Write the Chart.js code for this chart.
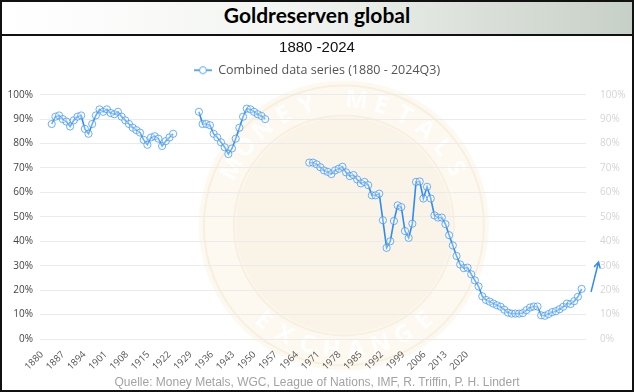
<!DOCTYPE html>
<html>
<head>
<meta charset="utf-8">
<title>Goldreserven global</title>
<script src="https://cdn.jsdelivr.net/npm/chart.js@4.4.1/dist/chart.umd.min.js"></script>
<style>
  html, body { margin: 0; padding: 0; background: #fff; }
  #frame {
    position: relative; width: 634px; height: 392px;
    box-sizing: border-box; border: 2px solid #111; overflow: hidden;
  }
  #header {
    height: 32px; border-bottom: 2px solid #111;
    background: linear-gradient(90deg, #ffffff 0%, #f3f5f2 45%, #c7d0c6 100%);
    text-align: center; line-height: 32px;
    font: bold 21px Lato, "Open Sans", sans-serif; color: #000;
  }
  #plot { position: relative; width: 630px; height: 354px; }
  #plot canvas { display: block; }
  #source {
    position: absolute; left: 0; right: 0; bottom: 1px; text-align: center;
    font: 12px "Liberation Sans", Arial, sans-serif; color: #a3a3a3;
  }
</style>
</head>
<body>
<div id="frame">
  <div id="header">Goldreserven global</div>
  <div id="plot"><canvas id="chart" width="630" height="354"></canvas></div>
  <div id="source">Quelle: Money Metals, WGC, League of Nations, IMF, R. Triffin, P. H. Lindert</div>
</div>

<script>
'use strict';

// ─── Daten ───────────────────────────────────────────────────────────────────
const seriesLabel = 'Combined data series (1880 - 2024Q3)';

// Goldanteil an den Währungsreserven (%), ein Wert pro Jahr
const start1 = 1880; // 1880–1913
const share1 = [88, 91, 91.5, 90, 89, 87, 89.5, 91, 91.5, 86, 84, 88, 91.5, 94, 93, 94, 92.5,
  92, 93, 91, 89.5, 88, 86.5, 85.5, 84.5, 81.5, 79.5, 82.5, 83, 82, 79, 81, 82.5, 84];

const start2 = 1920; // 1920–1938
const share2 = [93, 88, 88, 87.5, 84, 82.5, 80.5, 78.5, 75.7, 78, 82, 86.5, 91, 94.3, 94, 93,
  92, 91.3, 90];

const start3 = 1950; // 1950–2024
const share3 = [72.2, 72.2, 71.5, 70.3, 69, 68.4, 67.5, 69, 69.7, 70.5,
  68.2, 66.7, 67.1, 65.3, 63.7, 64.3, 63, 58.8, 58.8, 59.5,
  48.6, 37.3, 40, 48.3, 54.7, 54, 44.2, 41.4, 47.2, 64.3,
  64.5, 57.5, 62.3, 57.5, 50.6, 49.7, 49.7, 47, 42.5, 38.3,
  34, 30.5, 29, 29.2, 26.5, 24, 21.5, 17.5, 16, 15.3,
  14.5, 13.8, 13.2, 12, 10.8, 10.4, 10.4, 10.4, 10.6, 11.8,
  12.9, 13.3, 13.3, 9.7, 9.5, 10.2, 11, 11.4, 12.2, 13.2,
  14.5, 14.3, 15.5, 17.3, 20.5];

// Jahre ohne Daten (Lücken in der Linie)
const gapYears = [1916, 1944];

// Beschriftung der x-Achse
const tickYears = [1880, 1887, 1894, 1901, 1908, 1915, 1922, 1929, 1936, 1943, 1950,
  1957, 1964, 1971, 1978, 1985, 1992, 1999, 2006, 2013, 2020];

// Pfeil rechts (Trend), in Datenkoordinaten [Jahr, %]
const arrowFrom = [2026.6, 19.5];
const arrowTo = [2028.6, 31.5];

// ─── Punkte zusammensetzen ───────────────────────────────────────────────────
const toPoints = (start, values) => values.map((v, i) => ({ x: start + i, y: v }));

const points = [
  ...toPoints(start1, share1),
  { x: gapYears[0], y: null },
  ...toPoints(start2, share2),
  { x: gapYears[1], y: null },
  ...toPoints(start3, share3),
];

const BLUE = '#2f8cf0';

// Legenden-Symbol: Linie mit Kreis
function legendIcon() {
  const c = document.createElement('canvas');
  c.width = 18; c.height = 10;
  const g = c.getContext('2d');
  g.strokeStyle = BLUE; g.lineWidth = 1.5;
  g.beginPath(); g.moveTo(0, 5); g.lineTo(18, 5); g.stroke();
  g.fillStyle = '#fff'; g.strokeStyle = 'rgba(60,150,245,0.85)'; g.lineWidth = 1;
  g.beginPath(); g.arc(9, 5, 3.5, 0, Math.PI * 2); g.fill(); g.stroke();
  return c;
}

// ─── Plugins ────────────────────────────────────────────────────────────────
function arcText(ctx, text, cx, cy, r, centerAngle, spacing, outward) {
  const total = spacing * (text.length - 1);
  for (let i = 0; i < text.length; i++) {
    const a = outward ? centerAngle - total / 2 + i * spacing : centerAngle + total / 2 - i * spacing;
    ctx.save();
    ctx.translate(cx + r * Math.cos(a), cy + r * Math.sin(a));
    ctx.rotate(outward ? a + Math.PI / 2 : a - Math.PI / 2);
    ctx.fillText(text[i], 0, 0);
    ctx.restore();
  }
}

// Wasserzeichen (Money Metals Exchange Logo, stark vereinfacht)
const watermark = {
  id: 'watermark',
  beforeDraw(chart) {
    const { ctx, chartArea: a } = chart;
    const cx = a.left + a.width * 0.55;
    const cy = a.top + a.height * 0.535;
    ctx.save();
    ctx.fillStyle = 'rgba(246,232,196,0.25)';
    ctx.beginPath(); ctx.arc(cx, cy, 145, 0, Math.PI * 2); ctx.fill();
    ctx.fillStyle = 'rgba(240,214,196,0.18)';
    ctx.beginPath(); ctx.arc(cx, cy, 108, 0, Math.PI * 2); ctx.fill();
    ctx.strokeStyle = 'rgba(225,205,160,0.2)'; ctx.lineWidth = 2;
    ctx.beginPath(); ctx.arc(cx, cy, 140, 0, Math.PI * 2); ctx.stroke();
    ctx.beginPath(); ctx.arc(cx, cy, 110, 0, Math.PI * 2); ctx.stroke();
    ctx.font = 'bold 24px "Open Sans", sans-serif';
    ctx.textAlign = 'center'; ctx.textBaseline = 'middle';
    ctx.fillStyle = 'rgba(255,255,255,0.95)';
    arcText(ctx, 'MONEY METALS', cx, cy, 125, -Math.PI / 2, 0.2, true);
    arcText(ctx, 'EXCHANGE', cx, cy, 125, Math.PI / 2, 0.2, false);
    ctx.restore();
  },
};

const trendArrow = {
  id: 'trendArrow',
  afterDatasetsDraw(chart) {
    const { ctx, scales } = chart;
    const x0 = scales.xData.getPixelForValue(arrowFrom[0]);
    const y0 = scales.y.getPixelForValue(arrowFrom[1]);
    const x1 = scales.xData.getPixelForValue(arrowTo[0]);
    const y1 = scales.y.getPixelForValue(arrowTo[1]);
    const ang = Math.atan2(y1 - y0, x1 - x0);
    ctx.save();
    ctx.strokeStyle = BLUE; ctx.lineWidth = 1.5; ctx.lineCap = 'round';
    ctx.beginPath(); ctx.moveTo(x0, y0); ctx.lineTo(x1, y1);
    ctx.moveTo(x1 - 6 * Math.cos(ang - 0.5), y1 - 6 * Math.sin(ang - 0.5));
    ctx.lineTo(x1, y1);
    ctx.lineTo(x1 - 6 * Math.cos(ang + 0.5), y1 - 6 * Math.sin(ang + 0.5));
    ctx.stroke();
    ctx.restore();
  },
};

// ─── Chart ─────────────────────────────────────────────────────────────────
const pct = v => v + '%';
const tickFont = { family: "'Open Sans', sans-serif", size: 10 };

new Chart(document.getElementById('chart'), {
  type: 'line',
  data: {
    datasets: [{
      label: seriesLabel,
      data: points,
      xAxisID: 'xData',
      yAxisID: 'y',
      borderColor: BLUE,
      borderWidth: 1.6,
      pointRadius: 3.6,
      pointBorderWidth: 1,
      pointBorderColor: 'rgba(60,150,245,0.75)',
      pointBackgroundColor: 'rgba(255,255,255,0.3)',
      tension: 0,
      spanGaps: false,
      clip: 8,
    }],
  },
  options: {
    responsive: false,
    animation: false,
    events: [],
    layout: { padding: { top: 0, left: 0, right: 0, bottom: 20 } },
    plugins: {
      title: {
        display: true,
        text: '1880 -2024',
        color: '#111',
        font: { family: "'Liberation Sans', Arial, sans-serif", size: 15, weight: 'normal' },
        padding: { top: 3, bottom: 2 },
      },
      legend: {
        display: true,
        labels: {
          usePointStyle: true,
          pointStyle: legendIcon(),
          pointStyleWidth: 18,
          padding: 5,
          color: '#555',
          font: { family: "'Open Sans', sans-serif", size: 12.5 },
        },
      },
      // Abstandshalter zwischen Legende und Zeichenfläche
      subtitle: {
        display: true,
        text: '',
        weight: 0,
        font: { size: 1 },
        padding: { top: 7, bottom: 0 },
      },
      tooltip: { enabled: false },
    },
    scales: {
      // sichtbare Jahresbeschriftung (eigene Teilung wie im Original)
      x: {
        type: 'linear',
        position: 'bottom',
        bounds: 'data',
        min: 1882,
        max: 2059.2,
        afterBuildTicks: s => { s.ticks = tickYears.map(v => ({ value: v })); },
        afterFit: s => { s.height = 31; },
        ticks: {
          autoSkip: false,
          includeBounds: false,
          minRotation: 45,
          maxRotation: 45,
          padding: 2,
          color: '#555',
          font: { family: "'Open Sans', sans-serif", size: 9.5 },
          callback: v => String(v),
        },
        grid: { display: false },
        border: { display: false },
      },
      // Zeitachse der Datenpunkte
      xData: { type: 'linear', display: false, min: 1878.99, max: 2025.19 },
      y: {
        position: 'left',
        min: 0,
        max: 100,
        afterFit: s => { s.width = 46; },
        ticks: { stepSize: 10, padding: 7, color: '#444', font: tickFont, callback: pct },
        grid: { color: '#ebebeb', lineWidth: 1 },
        border: { display: false },
      },
      y2: {
        position: 'right',
        min: 0,
        max: 100,
        afterFit: s => { s.width = 46; },
        ticks: { stepSize: 10, padding: 6, color: '#d4d4d4', font: tickFont, callback: pct },
        grid: { display: false },
        border: { display: false },
      },
    },
  },
  plugins: [watermark, trendArrow],
});
</script>
</body>
</html>
